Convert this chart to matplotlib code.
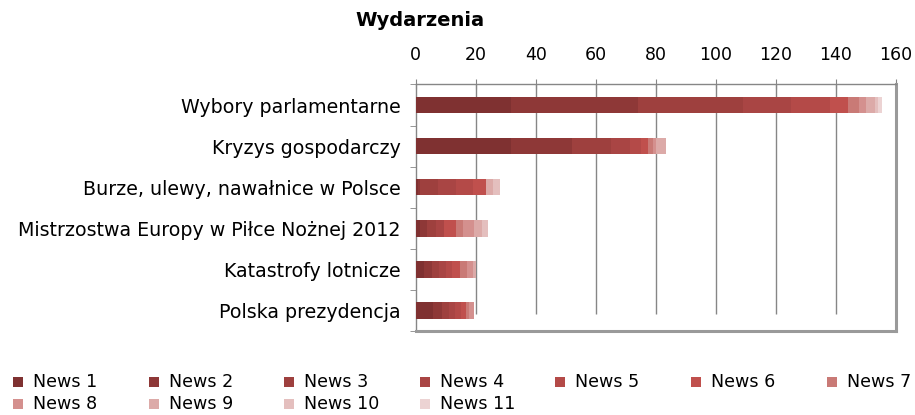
import matplotlib
matplotlib.use("Agg")
import matplotlib.pyplot as plt
from matplotlib.patches import Rectangle
import numpy as np

categories = [
    "Wybory parlamentarne",
    "Kryzys gospodarczy",
    "Burze, ulewy, nawałnice w Polsce",
    "Mistrzostwa Europy w Piłce Nożnej 2012",
    "Katastrofy lotnicze",
    "Polska prezydencja",
]
series_names = ["News 1", "News 2", "News 3", "News 4", "News 5", "News 6",
                "News 7", "News 8", "News 9", "News 10", "News 11"]
news1 = [31.8, 31.8, 0.7, 1.4, 2.8, 5.6]
news2 = [42.3, 20.4, 0.7, 2.2, 2.6, 3.3]
news3 = [34.9, 12.9, 5.9, 3.3, 2.4, 2.2]
news4 = [16.1, 6.3, 6.0, 2.6, 2.2, 2.0]
news5 = [13.0, 3.7, 5.9, 0.0, 2.2, 1.9]
news6 = [5.9, 2.3, 4.2, 3.8, 2.4, 1.9]
news7 = [3.8, 1.7, 0.0, 2.6, 2.6, 0.9]
news8 = [2.3, 1.0, 0.0, 3.6, 2.0, 1.7]
news9 = [3.0, 3.3, 2.4, 2.6, 0.8, 0.0]
news10 = [1.1, 0.0, 2.2, 2.0, 0.0, 0.0]
news11 = [1.2, 0.0, 0.0, 0.0, 0.0, 0.0]
series_values = [news1, news2, news3, news4, news5, news6, news7, news8,
                 news9, news10, news11]
x_ticks = [0, 20, 40, 60, 80, 100, 120, 140, 160]

colors = ["#7f3131", "#8e3837", "#9e403e", "#a94544", "#b44a48", "#c0504d",
          "#c97a76", "#d4908e", "#dcaaa8", "#e4bfbe", "#ecd3d3"]

plt.rcParams['font.family'] = ['DejaVu Sans']
W, H = 915, 415
fig = plt.figure(figsize=(W / 100, H / 100), dpi=100)
ax = fig.add_axes([415.7 / W, 1 - 331 / H, 480 / W, 246.5 / H])

y = np.arange(len(categories))
left = np.zeros(len(categories))
for vals, col, name in zip(series_values, colors, series_names):
    ax.barh(y, vals, left=left, height=0.4, color=col, label=name, zorder=3,
            linewidth=0)
    left += np.array(vals)

ax.set_xlim(0, 160)
ax.set_ylim(len(categories) - 0.5, -0.5)

grid_c = "#868686"
ax.vlines(x_ticks[1:-1], -0.5, 5.08, colors=grid_c, linewidth=1.0, zorder=1)

ax.xaxis.tick_top()
ax.set_xticks(x_ticks)
ax.set_xticklabels([str(t) for t in x_ticks])
ax.tick_params(axis='x', which='major', direction='inout', length=7,
               color=grid_c, labelsize=12.5, pad=11, labelcolor='black')

ax.set_yticks(y)
ax.set_yticklabels(categories)
ax.set_yticks(np.arange(-0.5, len(categories)), minor=True)
ax.tick_params(axis='y', which='major', length=0, labelsize=13.7, pad=11)
ax.tick_params(axis='y', which='minor', direction='out', length=4,
               color=grid_c)

for s in ['left', 'top']:
    ax.spines[s].set_color(grid_c)
    ax.spines[s].set_linewidth(1.0)
for s in ['right', 'bottom']:
    ax.spines[s].set_color("#9a9a9a")
    ax.spines[s].set_linewidth(2.2)

fig.text(420 / W, 1 - 20 / H, "Wydarzenia", ha='center', va='center',
         fontsize=14, fontweight='bold')

# legend (Excel-style uniform grid, row-major)
col_w = 135.6
for i, (name, col) in enumerate(zip(series_names, colors)):
    r, c = divmod(i, 7)
    x0 = 13 + c * col_w
    yc = 382 + r * 22
    fig.patches.append(Rectangle((x0 / W, 1 - (yc + 5) / H), 10 / W, 10 / H,
                                 transform=fig.transFigure, facecolor=col,
                                 edgecolor='none'))
    fig.text((x0 + 20) / W, 1 - yc / H, name, ha='left', va='center',
             fontsize=12.6)

fig.savefig("out.png", dpi=100)
